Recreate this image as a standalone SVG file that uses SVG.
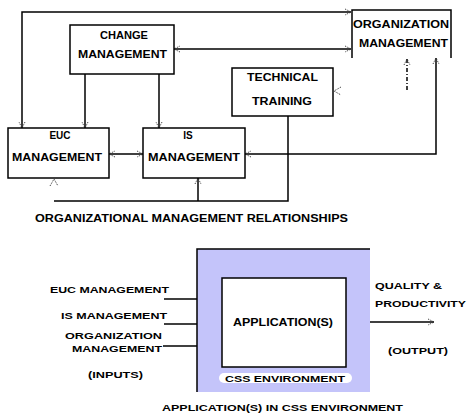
<svg xmlns="http://www.w3.org/2000/svg" width="467" height="413" viewBox="0 0 467 413">
<style>
.box{fill:#fff;stroke:#000;stroke-width:1.5}
.ln{fill:none;stroke:#000;stroke-width:1.5}
.ah{fill:none;stroke:#333;stroke-width:1;stroke-dasharray:1 1}
text{font-family:"Liberation Sans",Arial,sans-serif;font-weight:bold;fill:#000;font-size:10px}
.s{font-size:9px}
.m{text-anchor:middle}
</style>
<defs>
<marker id="arr" markerWidth="8" markerHeight="8" refX="7" refY="4" orient="auto-start-reverse" markerUnits="userSpaceOnUse">
<path d="M1,1 L7,4 L1,7" fill="none" stroke="#333" stroke-width="1" stroke-dasharray="1 1"/>
</marker>
</defs>
<rect width="467" height="413" fill="#fff"/>

<g id="connectors">
<path class="ln" d="M22,128 V12 H351" marker-start="url(#arr)" marker-end="url(#arr)"/>
<path class="ln" d="M174,49 H351" marker-start="url(#arr)" marker-end="url(#arr)"/>
<path class="ln" d="M85,74 V128" marker-end="url(#arr)"/>
<path class="ln" d="M159,74 V128" marker-end="url(#arr)"/>
<path class="ln" d="M109,154 H143" marker-start="url(#arr)" marker-end="url(#arr)"/>
<path class="ln" d="M245,154 H436 V58" marker-start="url(#arr)" marker-end="url(#arr)"/>
<path class="ln" d="M407,90 V59" stroke-dasharray="4 2 1 2" marker-end="url(#arr)"/>
<path class="ah" d="M341,87 L334,91 L341,95"/>
<path class="ah" d="M50,186 L54,179 L58,186"/>
<path class="ln" d="M54,201 H288 V116"/>
<path class="ln" d="M198,201 V178" marker-end="url(#arr)"/>
<path class="ln" d="M164,299 H222" marker-end="url(#arr)"/>
<path class="ln" d="M164,324 H222" marker-end="url(#arr)"/>
<path class="ln" d="M163,346 H222" marker-end="url(#arr)"/>
<path class="ln" d="M346,322 H434" marker-end="url(#arr)"/>
</g>

<g id="change-management">
<rect class="box" x="70" y="25" width="104" height="49"/>
<text x="100" y="39" textLength="48" lengthAdjust="spacingAndGlyphs">CHANGE</text>
<text x="78" y="58" textLength="89" lengthAdjust="spacingAndGlyphs">MANAGEMENT</text>
</g>

<g id="organization-management">
<path class="ln" d="M352,58 V10 H451 V58" fill="#fff"/>
<text x="353" y="28" textLength="96" lengthAdjust="spacingAndGlyphs">ORGANIZATION</text>
<text x="359" y="47" textLength="89" lengthAdjust="spacingAndGlyphs">MANAGEMENT</text>
</g>

<g id="technical-training">
<rect class="box" x="232" y="68" width="101" height="48"/>
<text x="247" y="81" textLength="71" lengthAdjust="spacingAndGlyphs">TECHNICAL</text>
<text x="252" y="105" textLength="60" lengthAdjust="spacingAndGlyphs">TRAINING</text>
</g>

<g id="euc-management">
<rect class="box" x="8" y="128" width="101" height="50"/>
<text class="m" x="60" y="139">EUC</text>
<text x="12" y="161" textLength="90" lengthAdjust="spacingAndGlyphs">MANAGEMENT</text>
</g>

<g id="is-management">
<rect class="box" x="143" y="128" width="102" height="50"/>
<text class="m" x="188" y="139">IS</text>
<text x="148" y="161" textLength="92" lengthAdjust="spacingAndGlyphs">MANAGEMENT</text>
</g>

<text x="35" y="222" textLength="313" lengthAdjust="spacingAndGlyphs">ORGANIZATIONAL MANAGEMENT RELATIONSHIPS</text>

<g id="css-environment">
<rect x="197" y="249" width="173" height="143" fill="#c4c4fa"/>
<path class="ln" d="M197,392 V249 H370"/>
<rect x="219" y="373" width="133" height="10" rx="5" fill="#fff"/>
<text class="s" x="225" y="381.5" textLength="120" lengthAdjust="spacingAndGlyphs">CSS ENVIRONMENT</text>
</g>

<g id="applications">
<rect class="box" x="222" y="278" width="124" height="89"/>
<text x="233" y="326" textLength="100" lengthAdjust="spacingAndGlyphs">APPLICATION(S)</text>
</g>

<g id="inputs">
<text class="s" x="50" y="293" textLength="119" lengthAdjust="spacingAndGlyphs">EUC MANAGEMENT</text>
<text class="s" x="61" y="319" textLength="106" lengthAdjust="spacingAndGlyphs">IS MANAGEMENT</text>
<text class="s" x="65" y="339" textLength="97" lengthAdjust="spacingAndGlyphs">ORGANIZATION</text>
<text class="s" x="72" y="352" textLength="90" lengthAdjust="spacingAndGlyphs">MANAGEMENT</text>
<text class="s" x="88" y="378" textLength="55" lengthAdjust="spacingAndGlyphs">(INPUTS)</text>
</g>

<g id="output">
<text class="s" x="375" y="289" textLength="67" lengthAdjust="spacingAndGlyphs">QUALITY &amp;</text>
<text class="s" x="375" y="307" textLength="91" lengthAdjust="spacingAndGlyphs">PRODUCTIVITY</text>
<text class="s" x="388" y="354" textLength="60" lengthAdjust="spacingAndGlyphs">(OUTPUT)</text>
</g>

<text class="s" x="162" y="411" textLength="241" lengthAdjust="spacingAndGlyphs">APPLICATION(S) IN CSS ENVIRONMENT</text>
</svg>
